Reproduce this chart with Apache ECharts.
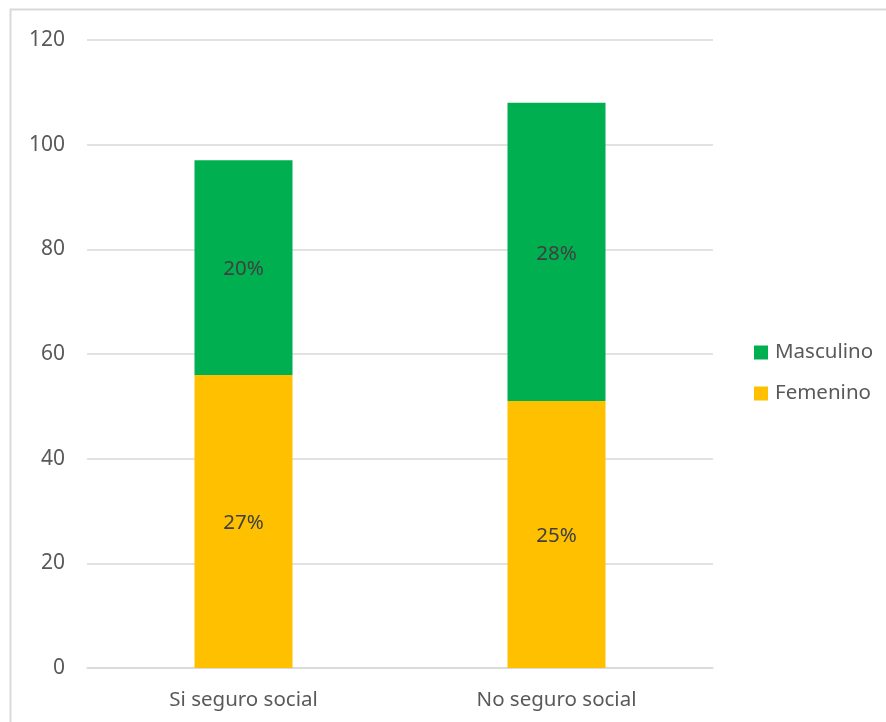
<!DOCTYPE html>
<html><head><meta charset="utf-8">
<script src="https://cdn.jsdelivr.net/npm/echarts@6/dist/echarts.min.js"></script>
<style>html,body{margin:0;padding:0;background:#fff}#c{width:886px;height:722px}</style>
</head><body><div id="c"></div>
<script>
const categories = ['Si seguro social', 'No seguro social'];
const femenino = [56, 51];
const masculino = [41, 57];
const femeninoPct = ['27%', '25%'];
const masculinoPct = ['20%', '28%'];
const yTicks = [0, 20, 40, 60, 80, 100, 120];

const chart = echarts.init(document.getElementById('c'));
const font = 'Noto Sans';
chart.setOption({
  animation: false,
  textStyle: { fontFamily: font },
  graphic: [{ type: 'rect', shape: { x: 10.5, y: 9.5, width: 900, height: 800 }, style: { fill: 'none', stroke: '#d9d9d9', lineWidth: 2 }, z: 0 }],
  grid: { left: 87, right: 886 - 713, top: 40, bottom: 722 - 668, containLabel: false },
  legend: {
    orient: 'vertical', left: 749, top: 337, itemWidth: 14, itemHeight: 14, itemGap: 20,
    icon: 'rect',
    data: ['Masculino', 'Femenino'],
    textStyle: { fontFamily: font, fontSize: 20.5, color: '#595959', padding: [0, 0, 0, 2] }
  },
  xAxis: {
    type: 'category', data: categories,
    axisLine: { lineStyle: { color: '#d9d9d9', width: 1.5 } },
    axisTick: { show: false },
    axisLabel: { color: '#595959', fontSize: 20.5, fontFamily: font, margin: 22 }
  },
  yAxis: {
    type: 'value', min: 0, max: 120, interval: 20,
    axisLine: { show: false }, axisTick: { show: false },
    splitLine: { lineStyle: { color: '#d9d9d9', width: 1.5 } },
    axisLabel: { color: '#595959', fontSize: 21, fontFamily: font, margin: 22,
      formatter: v => yTicks.includes(v) ? String(v) : '' }
  },
  series: [
    { name: 'Femenino', type: 'bar', stack: 't', barWidth: 98, data: femenino,
      itemStyle: { color: '#FFC000' },
      label: { show: true, position: 'inside', offset: [0, 2], color: '#404040', fontSize: 20.5, fontFamily: font,
        formatter: p => femeninoPct[p.dataIndex] } },
    { name: 'Masculino', type: 'bar', stack: 't', barWidth: 98, data: masculino,
      itemStyle: { color: '#00B050' },
      label: { show: true, position: 'inside', offset: [0, 2], color: '#404040', fontSize: 20.5, fontFamily: font,
        formatter: p => masculinoPct[p.dataIndex] } }
  ]
});
</script></body></html>
